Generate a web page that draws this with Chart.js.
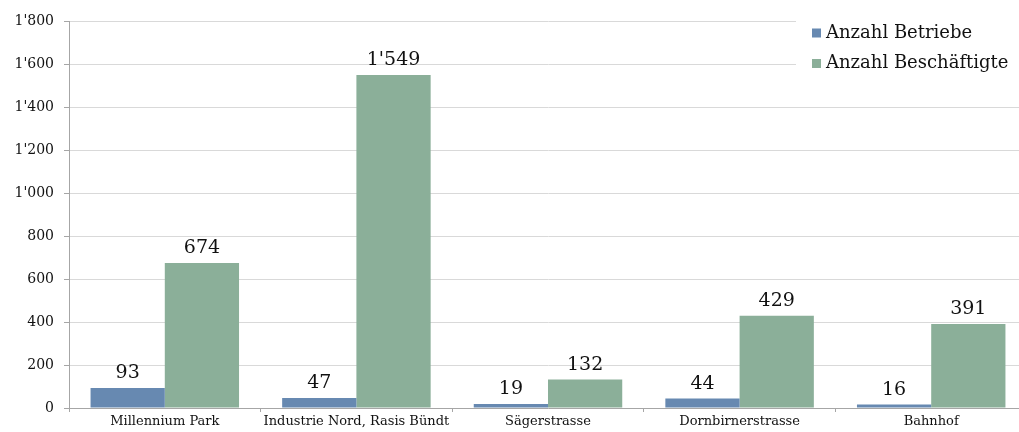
<!DOCTYPE html>
<html>
<head>
<meta charset="utf-8">
<script src="https://cdn.jsdelivr.net/npm/chart.js@4/dist/chart.umd.min.js"></script>
<style>
  html, body { margin: 0; padding: 0; background: #fff; overflow: hidden; }
  #wrap { width: 1027px; height: 432px; }
</style>
</head>
<body>
<div id="wrap"><canvas id="chart" width="1027" height="432"></canvas></div>
<script>
// chart data
const categories = ["Millennium Park", "Industrie Nord, Rasis Bündt", "Sägerstrasse", "Dornbirnerstrasse", "Bahnhof"];
const anzahlBetriebe = [93, 47, 19, 44, 16];
const anzahlBeschaeftigte = [674, 1549, 132, 429, 391];
const yMax = 1800;
const yStep = 200;

const FONT = "'DejaVu Serif', 'Liberation Serif', serif";
const axisGray = '#a6a6a6';

function fmt(v) {
    // swiss thousands separator
    return String(v).replace(/\B(?=(\d{3})+(?!\d))/g, "'");
}

// value labels above the bars
const valueLabels = {
    id: 'valueLabels',
    afterDatasetsDraw(chart) {
        const ctx = chart.ctx;
        ctx.save();
        ctx.font = "19px " + FONT;
        ctx.fillStyle = '#111';
        ctx.textAlign = 'center';
        ctx.textBaseline = 'alphabetic';
        chart.data.datasets.forEach((ds, i) => {
            chart.getDatasetMeta(i).data.forEach((bar, j) => {
                ctx.fillText(fmt(ds.data[j]), bar.x, bar.y - 10);
            });
        });
        ctx.restore();
    }
};

// legend sits inside the plot, on a white box over the gridlines
const boxLegend = {
    id: 'boxLegend',
    beforeDatasetsDraw(chart) {
        const ctx = chart.ctx;
        ctx.save();
        ctx.fillStyle = '#fff';
        ctx.fillRect(796, 8, chart.width - 796, 78);
        ctx.font = "18px " + FONT;
        ctx.textBaseline = 'middle';
        ctx.textAlign = 'left';
        chart.data.datasets.forEach((ds, i) => {
            const y = 33 + i * 30.5;
            ctx.fillStyle = ds.backgroundColor;
            ctx.fillRect(812, y - 4.5, 9, 9);
            ctx.fillStyle = '#111';
            ctx.fillText(ds.label, 826, y);
        });
        ctx.restore();
    }
};

new Chart(document.getElementById('chart'), {
    type: 'bar',
    data: {
        labels: categories,
        datasets: [
            { label: 'Anzahl Betriebe', data: anzahlBetriebe, backgroundColor: '#6789b1' },
            { label: 'Anzahl Beschäftigte', data: anzahlBeschaeftigte, backgroundColor: '#8baf99' }
        ]
    },
    options: {
        responsive: false,
        animation: false,
        layout: { padding: { top: 21, left: 0, right: 0, bottom: 0 } },
        datasets: { bar: { barPercentage: 1.0, categoryPercentage: 0.775 } },
        plugins: {
            legend: { display: false },
            tooltip: { enabled: false }
        },
        scales: {
            x: {
                afterFit(scale) { scale.height = 24; },
                grid: { display: true, offset: true, drawOnChartArea: false, tickLength: 4, tickColor: axisGray },
                border: { display: true, color: axisGray },
                ticks: { color: '#111', font: { family: FONT, size: 13 }, padding: 2, maxRotation: 0, autoSkip: false }
            },
            y: {
                min: 0,
                max: yMax,
                afterFit(scale) { scale.width = 69; },
                grid: { color: '#d9d9d9', tickLength: 5, tickColor: axisGray },
                border: { display: true, color: axisGray },
                ticks: {
                    stepSize: yStep,
                    color: '#111',
                    font: { family: FONT, size: 14 },
                    padding: 10,
                    callback: (v) => fmt(v)
                }
            }
        }
    },
    plugins: [valueLabels, boxLegend]
});
</script>
</body>
</html>
